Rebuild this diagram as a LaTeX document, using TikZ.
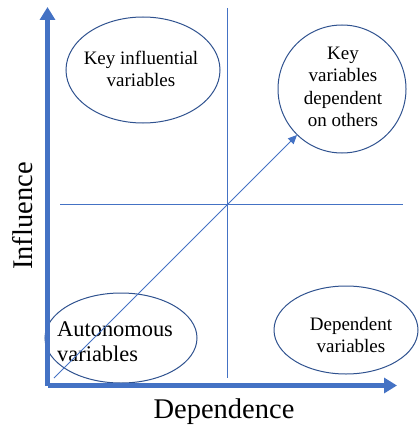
\documentclass[tikz,border=0pt]{standalone}
\usepackage{fontspec}
\setmainfont{Liberation Serif}
\usetikzlibrary{arrows.meta}
\definecolor{axisblue}{HTML}{4472C4}
\definecolor{rimblue}{HTML}{2F528F}
\begin{document}
\begin{tikzpicture}[x=1pt,y=-1pt,
  axis/.style={draw=axisblue,line width=4.5pt,-{Triangle[length=13pt,width=15pt]}},
  guide/.style={draw=axisblue,line width=0.9pt},
  zone/.style={draw=rimblue,line width=1pt},
  lbl/.style={font=\fontsize{19}{22.5}\selectfont,align=center,inner sep=0pt},
  axislbl/.style={font=\fontsize{28.5}{32}\selectfont,inner sep=0pt}]
\useasboundingbox (0,0) rectangle (419,425);
% quadrant guides
\coordinate (vtop) at (227,8);
\coordinate (vbot) at (227,378);
\coordinate (hl) at (60,204);
\coordinate (hr) at (403,204);
\draw[guide] (vtop) -- (vbot);
\draw[guide] (hl) -- (hr);
% zones
\draw[zone] (143,70) ellipse [x radius=77, y radius=53];
\draw[zone] (342,89) ellipse [x radius=64, y radius=64];
\draw[zone] (121,338) ellipse [x radius=76, y radius=45];
\draw[zone] (346,330) ellipse [x radius=72, y radius=44];
\node[lbl] (kinf) at (141,69) {Key influential\\variables};
\node[lbl] (kdep) at (343,87) {Key\\variables\\dependent\\on others};
\node[lbl,align=left,anchor=west,font=\fontsize{22.4}{25}\selectfont] (auto) at (57,342) {Autonomous\\variables};
\node[lbl] (depv) at (351,335) {Dependent\\variables};
% diagonal trend
\coordinate (dstart) at (54,378);
\coordinate (dend) at (297,135);
\draw[guide,-{Triangle[length=9pt,width=8pt]}] (dstart) -- (dend);
% axes
\coordinate (origin) at (47.5,385.5);
\coordinate (ytip) at (47.5,7);
\coordinate (xtip) at (397,385.5);
\draw[axis] (origin) -- (ytip);
\draw[axis] (origin) -- (xtip);
\node[axislbl,anchor=base] (xlbl) at (224,418) {Dependence};
\node[axislbl,anchor=base,rotate=90] (ylbl) at (32,216) {Influence};
\end{tikzpicture}
\end{document}
